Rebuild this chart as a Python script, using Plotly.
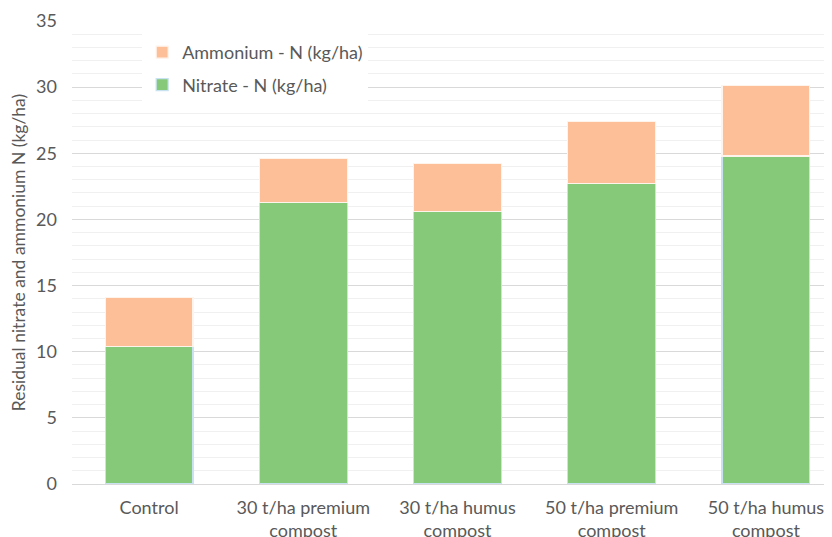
import plotly.graph_objects as go

categories = ["Control", "30 t/ha premium<br>compost", "30 t/ha humus<br>compost",
              "50 t/ha premium<br>compost", "50 t/ha humus<br>compost"]
nitrate = [10.4, 21.3, 20.6, 22.7, 24.8]
ammonium = [3.7, 3.3, 3.6, 4.7, 5.3]
y_ticks = [0, 5, 10, 15, 20, 25, 30, 35]

FONT = "Lato"
fig = go.Figure()
fig.add_trace(go.Bar(
    x=categories, y=nitrate, name="Nitrate - N (kg/ha)",
    marker=dict(color="#86c979", line=dict(color="#c9e2f2", width=1.2)),
    legendrank=2, legendgroup="n",
))
fig.add_trace(go.Bar(
    x=categories, y=ammonium, name="Ammonium - N (kg/ha)",
    marker=dict(color="#fdbf97", line=dict(color="#fff4ec", width=1.2)),
    legendrank=1, legendgroup="a",
))

# page has an 8px body margin, so the figure is shifted 8px right/down
fig.update_layout(
    barmode="stack",
    bargap=0.43,
    width=843, height=537,
    margin=dict(l=64, r=8, t=13, b=61, autoexpand=False),
    paper_bgcolor="white", plot_bgcolor="white",
    font=dict(family=FONT, color="#595959", size=18),
    showlegend=True,
    legend=dict(
        x=0.091, y=0.972, xanchor="left", yanchor="top",
        bgcolor="white", traceorder="grouped", tracegroupgap=6,
        font=dict(family=FONT, size=18, color="#595959"),
        itemwidth=30,
    ),
    xaxis=dict(
        type="category", range=[-0.5, 4.5], showgrid=False, automargin=False,
        showline=False, ticks="", tickfont=dict(size=18, color="#595959"),
        ticklabelstandoff=11,
    ),
    yaxis=dict(
        range=[0, 35], tickvals=y_ticks, showline=False, automargin=False,
        gridcolor="#d9d9d9", gridwidth=1,
        zeroline=True, zerolinecolor="#d9d9d9", zerolinewidth=1,
        minor=dict(dtick=1, showgrid=True, gridcolor="#f0f0f0", gridwidth=1),
        tickfont=dict(size=18, color="#595959"),
        ticklabelstandoff=14,
        title=dict(text="Residual nitrate and ammonium N (kg/ha)",
                   font=dict(size=17.5, color="#595959"), standoff=6),
    ),
)

fig.write_html("out.html")
